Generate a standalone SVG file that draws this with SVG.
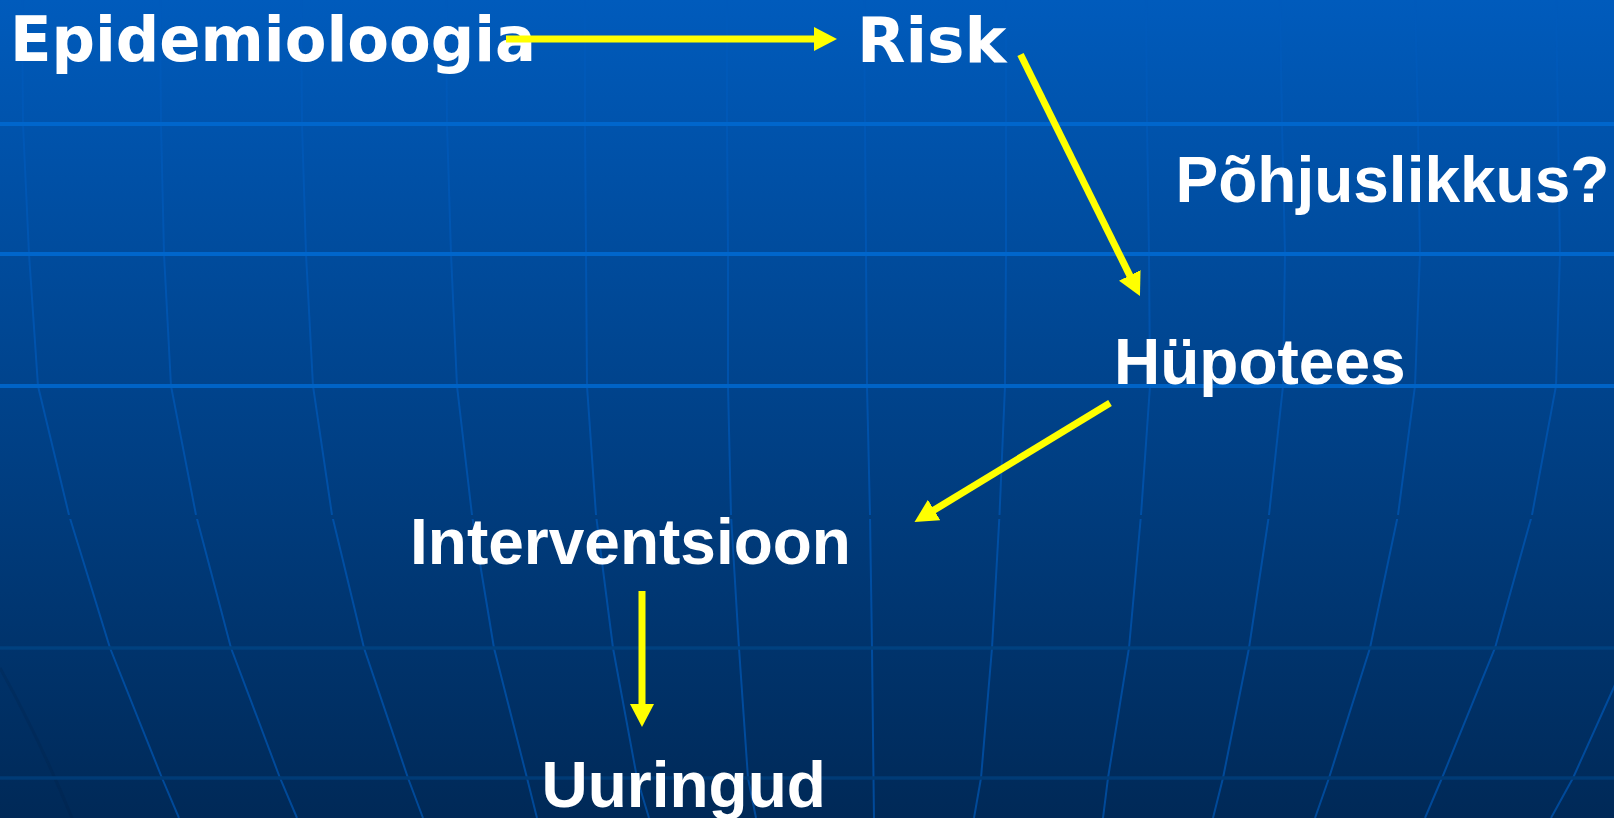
<svg xmlns="http://www.w3.org/2000/svg" width="1614" height="818" viewBox="0 0 1614 818">
  <defs>
    <linearGradient id="bg" x1="0" y1="0" x2="0" y2="818" gradientUnits="userSpaceOnUse">
      <stop offset="0" stop-color="#005BBC"/>
      <stop offset="1" stop-color="#002957"/>
    </linearGradient>
    <marker id="ah" viewBox="0 0 23 24" refX="3" refY="12" markerWidth="23" markerHeight="24" markerUnits="userSpaceOnUse" orient="auto">
      <path d="M0,0 L23,12 L0,24 Z" fill="#FFFF00"/>
    </marker>
    <style>
      .mer { fill: none; stroke: #005ABB; stroke-opacity: 0.65; stroke-width: 2; }
      .hl { stroke-width: 4; }
      .dv { font-family: "DejaVu Sans", "Liberation Sans", sans-serif; font-weight: bold; font-size: 63px; fill: #FFFFFF; }
      .hv { font-family: "Liberation Sans", Arial, sans-serif; font-weight: bold; font-size: 64px; fill: #FFFFFF; }
      .conn { fill: none; stroke: #FFFF00; stroke-width: 7; marker-end: url(#ah); }
    </style>
  </defs>

  <!-- background -->
  <rect x="0" y="0" width="1614" height="818" fill="url(#bg)"/>
  <path d="M0,668 Q40,740 72,818" fill="none" stroke="#00203F" stroke-opacity="0.2" stroke-width="3"/>

  <!-- meridians -->
  <g id="meridians">
    <polyline class="mer" points="22,0 23,124 29,254 38,386 69,515 110,648 162,778 179,818"/>
    <polyline class="mer" points="160,0 161,124 164,254 171,386 196,515 231,648 280,778 297,818"/>
    <polyline class="mer" points="301,0 302,124 306,254 313,386 332,515 364,648 408,778 423,818"/>
    <polyline class="mer" points="446,0 447,124 451,254 457,386 472,515 494,648 527,778 537,818"/>
    <polyline class="mer" points="585,0 585,124 586,254 587,386 596,515 613,648 637,778 649,818"/>
    <polyline class="mer" points="727,0 727,124 728,254 728,386 731,515 739,648 748,778 756,818"/>
    <polyline class="mer" points="864,0 865,124 866,254 867,386 870,515 872,648 873.5,778 874,818"/>
    <polyline class="mer" points="1006,0 1006,124 1006,254 1005,386 999.5,515 992,648 981,778 974,818"/>
    <polyline class="mer" points="1146,0 1147,124 1149,254 1150,386 1141,515 1129,648 1108,778 1103,818"/>
    <polyline class="mer" points="1280,0 1282,124 1285,254 1283,386 1269,515 1249,648 1223,778 1213,818"/>
    <polyline class="mer" points="1415,0 1418,124 1420,254 1415,386 1398,515 1370,648 1329,778 1315,818"/>
    <polyline class="mer" points="1556,0 1558,124 1560,254 1556,386 1532,515 1495,648 1442,778 1425,818"/>
    <polyline class="mer" points="1640,620 1614,687 1573,778 1551,818"/>
  </g>

  <!-- parallels -->
  <g id="parallels">
    <line x1="0" y1="124" x2="1614" y2="124" stroke="#0066CC" class="hl"/>
    <line x1="0" y1="254" x2="1614" y2="254" stroke="#0066CC" class="hl"/>
    <line x1="0" y1="386" x2="1614" y2="386" stroke="#0063C6" class="hl"/>
    <rect x="0" y="515" width="1614" height="4" fill="url(#bg)"/>
    <line x1="0" y1="648" x2="1614" y2="648" stroke="#00417F" stroke-width="3.5"/>
    <line x1="0" y1="778" x2="1614" y2="778" stroke="#003B76" stroke-width="3.5"/>
  </g>

  <!-- nodes -->
  <g id="node-epidemioloogia"><text class="dv" x="10" y="61" textLength="526" lengthAdjust="spacingAndGlyphs">Epidemioloogia</text></g>
  <g id="node-risk"><text class="dv" x="857" y="61.5">Risk</text></g>
  <g id="node-pohjuslikkus"><text class="hv" x="1175.5" y="201.5">Põhjuslikkus?</text></g>
  <g id="node-hupotees"><text class="hv" x="1114" y="383.5">Hüpotees</text></g>
  <g id="node-interventsioon"><text class="hv" x="410" y="564">Interventsioon</text></g>
  <g id="node-uuringud"><text class="hv" x="541.5" y="806.5">Uuringud</text></g>

  <!-- connectors -->
  <g id="connectors">
    <line class="conn" x1="506" y1="39" x2="817" y2="39"/>
    <line class="conn" x1="1020.5" y1="54.5" x2="1131.1" y2="278.1"/>
    <line class="conn" x1="1110" y1="403" x2="931.6" y2="511.6"/>
    <line class="conn" x1="642" y1="591" x2="642" y2="707"/>
  </g>
</svg>
